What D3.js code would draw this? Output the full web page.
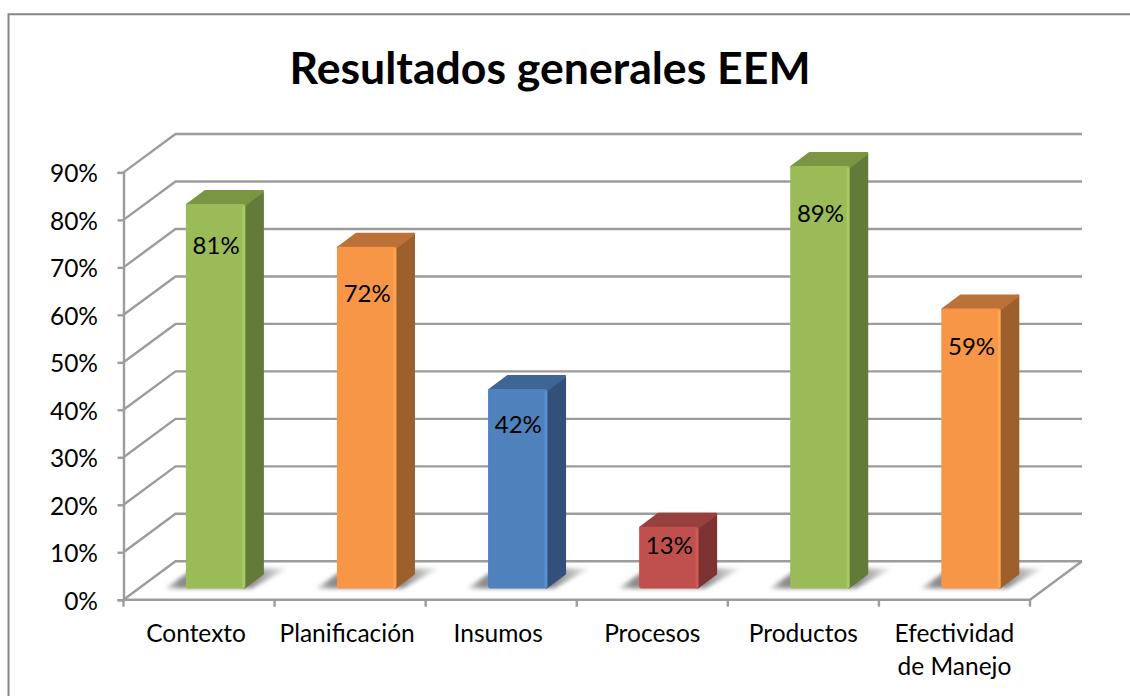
<!DOCTYPE html>
<html>
<head>
<meta charset="utf-8">
<script src="https://cdn.jsdelivr.net/npm/d3@7"></script>
<style>
  html, body { margin: 0; padding: 0; background: #fff; }
  svg { display: block; }
  text { font-family: Lato, "Open Sans", sans-serif; fill: #000; }
</style>
</head>
<body>
<div id="graph"></div>
<script>
const categories = ["Contexto", "Planificación", "Insumos", "Procesos", "Productos", "Efectividad de Manejo"];
const values = [81, 72, 42, 13, 89, 59];
const yTicks = [0, 10, 20, 30, 40, 50, 60, 70, 80, 90];
const barColors = ["green", "orange", "blue", "red", "green", "orange"];

const palette = {
  green: { front: "#9bbb59", edge: "#a9cb63", side: "#647a38", top: "#7a9643" },
  orange: { front: "#f79646", edge: "#ffa655", side: "#9d602c", top: "#bb7238" },
  blue: { front: "#4f81bd", edge: "#5b91d0", side: "#31517a", top: "#3f6594" },
  red: { front: "#c0504d", edge: "#d05a56", side: "#7c3331", top: "#96413e" }
};
// how far below the top of each bar its label sits (px)
const labelDrop = [41, 47, 35, 19, 47, 38];
// the first three category labels sit a little left of the band centre (px)
const catNudge = [-3, -3, -3, 0, 0, 0];

const w = 1130;
const h = 696;
const depthX = 52;
const depthY = -38.4;
const barDepthX = 18.5;
const barDepthY = -13.5;
const grey = "#9c9c9c";
const lineW = 2.4;

const xScale = d3.scaleBand()
                 .domain(categories)
                 .range([123.5, 1030]);
const yScale = d3.scaleLinear()
                 .domain([0, 90])
                 .range([599.7, 172.4]);
// bars stand a bit behind the front edge of the floor
const barWidth = 59.5;
const barShiftX = 16.6;
const barBaseShift = -11.2;
const barX = (d) => xScale(d) + (xScale.bandwidth() - barWidth) / 2 + barShiftX;
const barY = (v) => yScale(v) + barBaseShift;

const svg = d3.select("#graph")
              .append("svg")
              .attr("width", w)
              .attr("height", h);

const defs = svg.append("defs");
defs.append("filter")
    .attr("id", "soft")
    .attr("x", "-20%").attr("y", "-40%").attr("width", "140%").attr("height", "180%")
    .append("feGaussianBlur")
    .attr("stdDeviation", 2.2);
const shadowGrad = defs.append("linearGradient")
                       .attr("id", "shadowGrad")
                       .attr("x1", 0).attr("x2", 1).attr("y1", 0).attr("y2", 0);
shadowGrad.append("stop").attr("offset", "0%").attr("stop-color", "#808080").attr("stop-opacity", 0.3);
shadowGrad.append("stop").attr("offset", "12%").attr("stop-color", "#808080").attr("stop-opacity", 0.9);
shadowGrad.append("stop").attr("offset", "72%").attr("stop-color", "#808080").attr("stop-opacity", 0.9);
shadowGrad.append("stop").attr("offset", "100%").attr("stop-color", "#808080").attr("stop-opacity", 0.12);

// chart frame, only the top and left edges show in the picture
svg.append("path")
   .attr("d", `M8.5,${h + 5}V14.3H${w + 5}`)
   .attr("fill", "none")
   .attr("stroke", "#868686")
   .attr("stroke-width", 2);

svg.append("text")
   .attr("x", 550)
   .attr("y", 84)
   .attr("text-anchor", "middle")
   .attr("font-size", 44.6)
   .attr("font-weight", 700)
   .text("Resultados generales EEM");

// walls: gridlines run along the side wall, then across the back wall
const grid = svg.append("g")
                .attr("fill", "none")
                .attr("stroke", grey)
                .attr("stroke-width", lineW);
grid.selectAll("path")
    .data(yTicks)
    .enter()
    .append("path")
    .attr("d", (d) => {
      const x0 = xScale.range()[0];
      const x1 = xScale.range()[1];
      const y0 = yScale(d);
      return `M${x0},${y0}L${x0 + depthX},${y0 + depthY}H${x1 + depthX}`;
    });
// floor front edge and right edge
grid.append("path")
    .attr("d", () => {
      const x0 = xScale.range()[0];
      const x1 = xScale.range()[1];
      const y0 = yScale(0);
      return `M${x0},${y0}H${x1}L${x1 + depthX},${y0 + depthY}`;
    });

// y axis
const yAxis = d3.axisLeft(yScale)
                .tickValues(yTicks)
                .tickSize(6)
                .tickPadding(19.5)
                .tickFormat((d) => d + "%");
const yG = svg.append("g")
              .attr("transform", `translate(${xScale.range()[0]}, 0)`)
              .call(yAxis);
yG.select(".domain").attr("stroke", grey).attr("stroke-width", lineW);
yG.selectAll(".tick line").attr("stroke", grey).attr("stroke-width", lineW);
yG.selectAll(".tick text")
  .attr("font-family", "Lato")
  .attr("font-size", 24.5)
  .attr("fill", "#000")
  .attr("dy", "0.38em");

// x axis ticks sit between the categories
const xEdges = categories.map((d) => xScale(d)).concat(xScale.range()[1]);
svg.append("g")
   .selectAll("line")
   .data(xEdges)
   .enter()
   .append("line")
   .attr("x1", (d) => d)
   .attr("x2", (d) => d)
   .attr("y1", yScale(0))
   .attr("y2", yScale(0) + 7)
   .attr("stroke", grey)
   .attr("stroke-width", lineW);

// category labels, the long one wraps on two lines
const catLabels = svg.append("g")
                     .selectAll("text")
                     .data(categories)
                     .enter()
                     .append("text")
                     .attr("text-anchor", "middle")
                     .attr("font-size", 24.5)
                     .attr("y", 642);
catLabels.selectAll("tspan")
         .data((d) => d === "Efectividad de Manejo" ? ["Efectividad", "de Manejo"] : [d])
         .enter()
         .append("tspan")
         .attr("x", function () {
           const c = d3.select(this.parentNode).datum();
           return xScale(c) + xScale.bandwidth() / 2 + catNudge[categories.indexOf(c)];
         })
         .attr("dy", (d, i) => i ? 32.5 : 0)
         .text((d) => d);

// bar shadows on the floor
svg.append("g")
   .attr("filter", "url(#soft)")
   .selectAll("path")
   .data(categories)
   .enter()
   .append("path")
   .attr("fill", "url(#shadowGrad)")
   .attr("d", (d) => {
     const x = barX(d);
     const y = barY(0);
     return `M${x - 21},${y}H${x + barWidth + 6}L${x + barWidth + 42},${y - 20}H${x + 8}Z`;
   });

const bars = svg.append("g")
                .selectAll("g")
                .data(categories)
                .enter()
                .append("g");

// side face, drawn with a thick round stroke so the far corners come out soft
bars.append("path")
    .attr("fill", (d, i) => palette[barColors[i]].side)
    .attr("stroke", (d, i) => palette[barColors[i]].side)
    .attr("stroke-width", 3)
    .attr("stroke-linejoin", "round")
    .attr("d", (d, i) => {
      const x = barX(d) + barWidth - 1;
      const y0 = barY(0) - 1.5;
      const y1 = barY(values[i]) + 1;
      return `M${x},${y0}V${y1}L${x + barDepthX - 0.5},${y1 + barDepthY}V${y0 + barDepthY}Z`;
    });
// top face
bars.append("path")
    .attr("fill", (d, i) => palette[barColors[i]].top)
    .attr("stroke", (d, i) => palette[barColors[i]].top)
    .attr("stroke-width", 3)
    .attr("stroke-linejoin", "round")
    .attr("d", (d, i) => {
      const x = barX(d);
      const y1 = barY(values[i]) + 1;
      return `M${x + 1.5},${y1}L${x + barDepthX + 1},${y1 + barDepthY}H${x + barWidth + barDepthX - 1.5}L${x + barWidth - 1},${y1}Z`;
    });
// front face
bars.append("rect")
    .attr("x", (d) => barX(d))
    .attr("y", (d, i) => barY(values[i]))
    .attr("width", barWidth)
    .attr("height", (d, i) => barY(0) - barY(values[i]))
    .attr("rx", 2.5)
    .attr("fill", (d, i) => palette[barColors[i]].front);
// lighter strip down the right edge of the front face
bars.append("rect")
    .attr("x", (d) => barX(d) + barWidth - 3)
    .attr("y", (d, i) => barY(values[i]) + 2)
    .attr("width", 2.5)
    .attr("height", (d, i) => barY(0) - barY(values[i]) - 3)
    .attr("fill", (d, i) => palette[barColors[i]].edge);

bars.append("text")
    .attr("x", (d) => barX(d) + barWidth / 2 + 0.5)
    .attr("y", (d, i) => barY(values[i]) + labelDrop[i])
    .attr("dy", "0.36em")
    .attr("text-anchor", "middle")
    .attr("font-size", 24)
    .text((d, i) => values[i] + "%");
</script>
</body>
</html>
